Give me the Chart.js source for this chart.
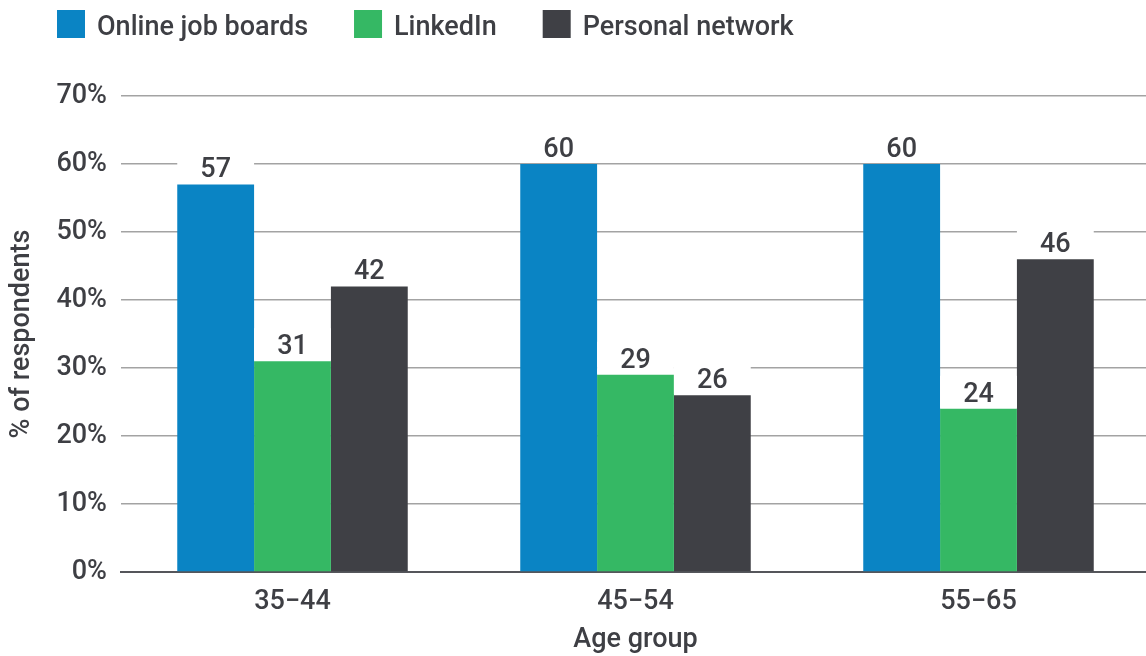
<!DOCTYPE html>
<html>
<head>
<meta charset="utf-8">
<script src="https://cdn.jsdelivr.net/npm/chart.js@4.4.1/dist/chart.umd.min.js"></script>
<style>
    html, body { margin: 0; padding: 0; background: #fff; }
    #wrap { width: 1146px; height: 656px; overflow: hidden; }
</style>
</head>
<body>
<div id="wrap"><canvas id="sourceChart" width="1150" height="656"></canvas></div>
<script>
const ageGroups = ['35\u221244', '45\u221254', '55\u221265'];
const seriesNames = ['Online job boards', 'LinkedIn', 'Personal network'];
const onlineBoards = [57, 60, 60];
const linkedIn = [31, 29, 24];
const personalNetwork = [42, 26, 46];
const seriesColors = ['#0a84c4', '#35b864', '#3f4045'];

const textColor = '#3e3f44';
const fontFamily = 'Roboto, "Noto Sans", sans-serif';
const baseFont = { family: fontFamily, size: 27, weight: 500 };

// value labels sit on a white patch so the gridlines break around them
const valueLabels = {
    id: 'valueLabels',
    afterDatasetsDraw(chart) {
        const ctx = chart.ctx;
        ctx.save();
        ctx.font = '500 27px ' + fontFamily;
        ctx.textAlign = 'center';
        ctx.textBaseline = 'alphabetic';
        chart.data.datasets.forEach((ds, i) => {
            chart.getDatasetMeta(i).data.forEach((bar, j) => {
                const w = bar.width;
                ctx.fillStyle = '#fff';
                ctx.fillRect(bar.x - w / 2, bar.y - 33, w, 32);
                ctx.fillStyle = textColor;
                ctx.fillText(ds.data[j], bar.x, bar.y - 7);
            });
        });
        ctx.restore();
    }
};

// legend row along the top
const topLegend = {
    id: 'topLegend',
    afterDraw(chart) {
        const ctx = chart.ctx;
        ctx.save();
        ctx.font = '500 27px ' + fontFamily;
        ctx.textBaseline = 'alphabetic';
        let x = 57;
        chart.data.datasets.forEach(ds => {
            ctx.fillStyle = ds.backgroundColor;
            ctx.fillRect(x, 10, 28, 28);
            ctx.fillStyle = textColor;
            ctx.fillText(ds.label, x + 40, 35);
            x += 40 + ctx.measureText(ds.label).width + 46;
        });
        ctx.restore();
    }
};

function loadChart() {
    const ctx = document.getElementById('sourceChart').getContext('2d');
    const values = [onlineBoards, linkedIn, personalNetwork];

    new Chart(ctx, {
        type: 'bar',
        data: {
            labels: ageGroups,
            datasets: values.map((v, i) => ({
                label: seriesNames[i],
                data: v,
                backgroundColor: seriesColors[i],
                borderWidth: 0,
                categoryPercentage: 0.672,
                barPercentage: 1.0
            }))
        },
        options: {
            responsive: false,
            animation: false,
            layout: { padding: { top: 96, left: 0, right: 0, bottom: 0 } },
            plugins: {
                legend: { display: false },
                tooltip: { enabled: false }
            },
            scales: {
                x: {
                    grid: { display: false },
                    border: { display: true, color: '#55565b', width: 2 },
                    ticks: {
                        color: textColor,
                        padding: 6,
                        font: baseFont
                    },
                    title: {
                        display: true,
                        text: 'Age group',
                        color: textColor,
                        padding: { top: 0, bottom: 0 },
                        font: baseFont
                    },
                    afterFit(scale) { scale.height = 84; }
                },
                y: {
                    min: 0,
                    max: 70,
                    grid: { color: '#a3a3a3', lineWidth: 1.5, drawTicks: false },
                    border: { display: false },
                    ticks: {
                        stepSize: 10,
                        color: textColor,
                        padding: 14,
                        font: baseFont,
                        callback: v => v + '%'
                    },
                    title: {
                        display: true,
                        text: '% of respondents',
                        color: textColor,
                        padding: { top: 6, bottom: 0 },
                        font: baseFont
                    },
                    afterFit(scale) { scale.width = 121; }
                }
            }
        },
        plugins: [valueLabels, topLegend]
    });
}

document.addEventListener('DOMContentLoaded', () => {
    loadChart();
});
</script>
</body>
</html>
